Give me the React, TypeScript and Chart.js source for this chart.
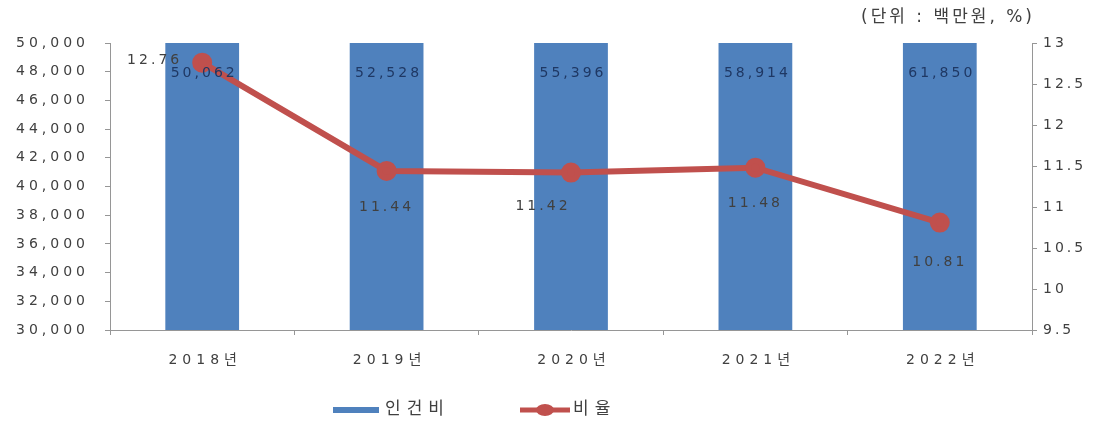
import React, { useEffect, useRef } from "react";
import { Chart, registerables } from "chart.js";

Chart.register(...registerables);

const categories = ["2018년", "2019년", "2020년", "2021년", "2022년"];
const laborCost = [50062, 52528, 55396, 58914, 61850];
const ratio = [12.76, 11.44, 11.42, 11.48, 10.81];
const leftMin = 30000;
const leftMax = 50000;
const leftStep = 2000;
const rightMin = 9.5;
const rightMax = 13;
const rightStep = 0.5;
const seriesNames = ["인건비", "비율"];
const unitText = "(단위 : 백만원, %)";

const BAR_COLOR = "#4F81BD";
const LINE_COLOR = "#C0504D";
const TEXT_COLOR = "#404040";
const BAR_LABEL_COLOR = "#1F3864";
const FONT = '"DejaVu Sans", "Noto Sans CJK KR", sans-serif';

// label placement for line values (style only)
const lineLabelPlacement = [
  { dx: -20, dy: -2, align: "right" },
  { dx: 0, dy: 36, align: "center" },
  { dx: -28, dy: 34, align: "center" },
  { dx: 0, dy: 36, align: "center" },
  { dx: 0, dy: 40, align: "center" },
];

const fmt = (v: number) => v.toLocaleString("en-US");

const textPlugin = {
  id: "customText",
  afterDatasetsDraw(chart: any) {
    const ctx = chart.ctx as CanvasRenderingContext2D;
    const area = chart.chartArea;
    ctx.save();
    ctx.textBaseline = "middle";
    // line labels
    const lineMeta = chart.getDatasetMeta(1);
    ctx.font = `14px ${FONT}`;
    ctx.fillStyle = TEXT_COLOR;
    (ctx as any).letterSpacing = "3px";
    lineMeta.data.forEach((pt: any, i: number) => {
      const p = lineLabelPlacement[i];
      ctx.textAlign = p.align as CanvasTextAlign;
      ctx.fillText(String(ratio[i]), pt.x + p.dx, pt.y + p.dy);
    });
    // bar labels
    const barMeta = chart.getDatasetMeta(0);
    ctx.fillStyle = BAR_LABEL_COLOR;
    ctx.textAlign = "center";
    barMeta.data.forEach((bar: any, i: number) => {
      const top = Math.max(bar.y, area.top);
      ctx.fillText(fmt(laborCost[i]), bar.x + 2, top + 30);
    });
    ctx.restore();
  },
  afterDraw(chart: any) {
    const ctx = chart.ctx as CanvasRenderingContext2D;
    const area = chart.chartArea;
    const sy = chart.scales.y;
    const sy1 = chart.scales.y1;
    const sx = chart.scales.x;
    ctx.save();
    ctx.fillStyle = TEXT_COLOR;
    ctx.textBaseline = "middle";
    // left ticks
    ctx.font = `14px ${FONT}`;
    (ctx as any).letterSpacing = "4px";
    ctx.textAlign = "right";
    sy.ticks.forEach((t: any) => {
      ctx.fillText(fmt(t.value), area.left - 21, sy.getPixelForValue(t.value));
    });
    // right ticks
    (ctx as any).letterSpacing = "3px";
    ctx.textAlign = "left";
    sy1.ticks.forEach((t: any) => {
      ctx.fillText(String(t.value), area.right + 11, sy1.getPixelForValue(t.value));
    });
    // category labels
    ctx.font = `14px ${FONT}`;
    (ctx as any).letterSpacing = "5px";
    ctx.textAlign = "center";
    categories.forEach((c, i) => {
      ctx.fillText(c, sx.getPixelForValue(i) + 3, area.bottom + 30);
    });
    // unit text
    ctx.font = `17px ${FONT}`;
    (ctx as any).letterSpacing = "3px";
    ctx.textAlign = "right";
    ctx.fillText(unitText, area.right + 3, 18);
    // legend
    const ly = 410;
    ctx.font = `17px ${FONT}`;
    (ctx as any).letterSpacing = "6px";
    ctx.textAlign = "left";
    ctx.fillStyle = BAR_COLOR;
    ctx.fillRect(333, ly - 3, 46, 6);
    ctx.fillStyle = TEXT_COLOR;
    ctx.fillText(seriesNames[0], 385, ly);
    ctx.strokeStyle = LINE_COLOR;
    ctx.lineWidth = 5;
    ctx.beginPath();
    ctx.moveTo(520, ly);
    ctx.lineTo(570, ly);
    ctx.stroke();
    ctx.fillStyle = LINE_COLOR;
    ctx.beginPath();
    ctx.ellipse(545, ly, 9, 6, 0, 0, Math.PI * 2);
    ctx.fill();
    ctx.fillStyle = TEXT_COLOR;
    ctx.fillText(seriesNames[1], 573, ly);
    ctx.restore();
  },
};

export default function App() {
  const ref = useRef<HTMLCanvasElement>(null);
  useEffect(() => {
    document.body.style.margin = "0";
    const chart = new Chart(ref.current!, {
      type: "bar",
      data: {
        labels: categories,
        datasets: [
          {
            type: "bar",
            label: seriesNames[0],
            data: laborCost,
            backgroundColor: BAR_COLOR,
            barPercentage: 0.4,
            categoryPercentage: 1,
            yAxisID: "y",
            order: 2,
          },
          {
            type: "line",
            label: seriesNames[1],
            data: ratio,
            borderColor: LINE_COLOR,
            backgroundColor: LINE_COLOR,
            borderWidth: 6,
            pointRadius: 7,
            pointBackgroundColor: LINE_COLOR,
            pointBorderColor: LINE_COLOR,
            tension: 0,
            yAxisID: "y1",
            order: 1,
          } as any,
        ],
      },
      options: {
        animation: false,
        responsive: false,
        maintainAspectRatio: false,
        layout: { padding: { top: 43, bottom: 52, left: 0, right: 0 } },
        plugins: {
          legend: { display: false },
          tooltip: { enabled: false },
        },
        scales: {
          x: {
            offset: true,
            grid: {
              display: true,
              drawOnChartArea: false,
              offset: true,
              tickLength: 5,
              color: "#969696",
            },
            border: { display: true, color: "#969696", width: 1 },
            ticks: { display: false },
            afterFit: (s: any) => {
              s.height = 40;
            },
          },
          y: {
            position: "left",
            min: leftMin,
            max: leftMax,
            ticks: { display: false, stepSize: leftStep },
            grid: {
              display: true,
              drawOnChartArea: false,
              tickLength: 5,
              color: "#969696",
            },
            border: { display: true, color: "#969696", width: 1 },
            afterFit: (s: any) => {
              s.width = 110;
            },
          },
          y1: {
            position: "right",
            min: rightMin,
            max: rightMax,
            ticks: { display: false, stepSize: rightStep },
            grid: {
              display: true,
              drawOnChartArea: false,
              tickLength: 5,
              color: "#969696",
            },
            border: { display: true, color: "#969696", width: 1 },
            afterFit: (s: any) => {
              s.width = 80;
            },
          },
        },
      },
      plugins: [textPlugin],
    });
    return () => chart.destroy();
  }, []);
  return <canvas ref={ref} width={1112} height={422} style={{ display: "block" }} />;
}
